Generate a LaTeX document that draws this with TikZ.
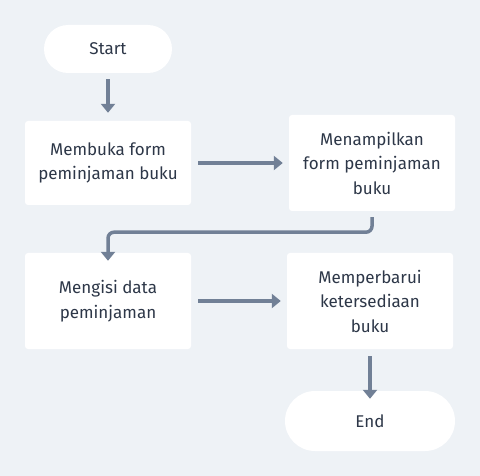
\documentclass[tikz,border=0pt]{standalone}
\usepackage{fontspec}
\setmainfont{Fira Sans}
\usetikzlibrary{arrows.meta}
\definecolor{bg}{HTML}{EEF2F6}
\definecolor{ln}{HTML}{718096}
\definecolor{tx}{HTML}{2D3748}
\tikzset{
  box/.style={fill=white, rounded corners=3pt, inner sep=0pt, align=center, text=tx, font=\fontsize{17}{24.5}\selectfont},
  pill/.style={fill=white, rounded corners=24pt, inner sep=0pt, align=center, text=tx, font=\fontsize{17}{24.5}\selectfont},
  conn/.style={draw=ln, line width=3.5pt, -{Triangle[length=9pt,width=14pt]}},
}
\begin{document}
\begin{tikzpicture}[x=1pt,y=-1pt]
\fill[bg] (0,0) rectangle (480,476);
\useasboundingbox (0,0) rectangle (480,476);
\node[pill, minimum width=128pt, minimum height=48pt] (start) at (108,49) {Start};
\node[box, minimum width=166pt, minimum height=84pt] (b1) at (108,163) {Membuka form\\peminjaman buku};
\node[box, minimum width=166pt, minimum height=96pt] (b2) at (372,163) {Menampilkan\\form peminjaman\\buku};
\node[box, minimum width=166pt, minimum height=96pt] (b3) at (108,301) {Mengisi data\\peminjaman};
\node[box, minimum width=166pt, minimum height=96pt] (b4) at (370,301) {Memperbarui\\ketersediaan\\buku};
\node[pill, rounded corners=30pt, minimum width=170pt, minimum height=60pt] (end) at (370,421) {End};
\draw[conn] ([yshift=-6pt]start.south) -- ([yshift=8pt]b1.north);
\draw[conn] ([xshift=7pt]b1.east) -- ([xshift=-6pt]b2.west);
\draw[conn, rounded corners=6pt] ([yshift=-6pt]b2.south) |- ([yshift=-27pt]b1.south -| b3.north) -- ([yshift=-8pt]b3.north);
\draw[conn] ([xshift=7pt]b3.east) -- ([xshift=-6pt]b4.west);
\draw[conn] ([yshift=-7pt]b4.south) -- ([yshift=-8pt]end.north);
\end{tikzpicture}
\end{document}
